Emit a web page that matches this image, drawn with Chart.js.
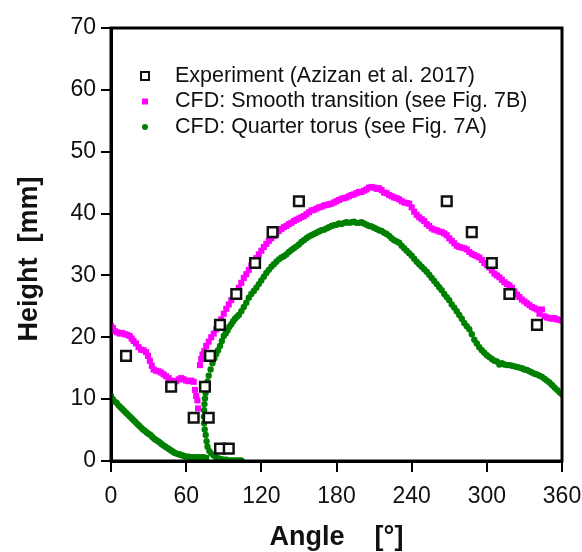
<!DOCTYPE html>
<html>
<head>
<meta charset="utf-8">
<script src="https://cdn.jsdelivr.net/npm/chart.js"></script>
<style>
  body { margin: 0; background: #fff; }
  #wrap { width: 582px; height: 552px; }
</style>
</head>
<body>
<div id="wrap"><canvas id="chart" width="582" height="552"></canvas></div>
<script>
// values: [angle in degrees, height in mm]
const expLabel = 'Experiment (Azizan et al. 2017)'
const smoothLabel = 'CFD: Smooth transition (see Fig. 7B)'
const torusLabel = 'CFD: Quarter torus (see Fig. 7A)'

const expPoints = [
  [12, 17], [48, 12], [66, 7], [75, 12], [78, 7], [79, 17], [87, 22], [87, 2], [94, 2],
  [100, 27], [115, 32], [129, 37], [150, 42], [268, 42], [288, 37], [304, 32], [318, 27], [340, 22]
]

const smoothPoints = [
  [0, 21.8], [1.5, 21.5], [3, 21.0], [5, 20.8], [7, 20.6], [9, 20.7], [11, 20.5], [13, 20.4],
  [15, 20.2], [16.5, 19.8], [18, 19.4], [20, 19.0], [22, 18.4], [24, 18.0], [26, 17.9], [28, 17.6],
  [29.5, 17.0], [31, 16.2], [32.5, 15.4], [34, 14.8], [36, 14.6], [38, 14.5], [40, 14.3], [42, 14.0],
  [44, 13.7], [46, 13.4], [48, 13.0], [50, 12.8], [52, 12.9], [54, 13.2], [56, 13.4], [58, 13.2],
  [60, 13.0], [62, 12.9], [64, 13.0], [66, 12.8], [67, 11.5], [68, 10.5], [69, 9.8], [69.5, 8.5],
  [71, 15.5], [72, 16.5], [73, 17.2], [74.5, 17.8], [76, 18.6], [78, 19.3], [80, 20.0], [82, 20.6],
  [84, 21.3], [86, 22.2], [88, 22.9], [90, 23.8], [92, 24.6], [94, 25.3], [96, 26.0], [98, 26.6],
  [100, 27.3], [102, 28.0], [104, 28.8], [106, 29.6], [108, 30.2], [110, 30.9], [112, 31.6], [114, 32.2],
  [116, 32.8], [118, 33.4], [120, 34.0], [122, 34.6], [124, 35.1], [126, 35.6], [128, 36.0], [130, 36.4],
  [132, 36.8], [134, 37.2], [136, 37.5], [138, 37.8], [140, 38.0], [142, 38.3], [144, 38.5], [146, 38.8],
  [148, 39.0], [150, 39.2], [152, 39.4], [154, 39.6], [156, 39.9], [158, 40.2], [160, 40.5], [162, 40.6],
  [164, 40.8], [166, 41.0], [168, 41.1], [170, 41.3], [172, 41.4], [174, 41.5], [176, 41.6], [178, 41.8],
  [180, 42.0], [182, 42.2], [184, 42.4], [186, 42.5], [188, 42.6], [190, 42.8], [192, 43.0], [194, 43.1],
  [196, 43.3], [198, 43.5], [200, 43.5], [202, 43.7], [204, 43.9], [206, 44.2], [208, 44.3], [210, 44.2],
  [212, 44.0], [214, 44.1], [216, 43.8], [218, 43.4], [220, 43.3], [222, 43.0], [224, 42.8], [226, 42.6],
  [228, 42.5], [230, 42.3], [232, 42.0], [234, 41.8], [236, 41.7], [238, 41.6], [240, 41.0], [242, 40.3],
  [244, 39.8], [246, 39.4], [248, 39.1], [250, 38.8], [252, 38.3], [254, 38.0], [256, 37.6], [258, 37.4],
  [260, 37.3], [262, 37.1], [264, 37.0], [266, 36.8], [268, 36.5], [270, 36.0], [272, 35.6], [274, 35.2],
  [276, 34.8], [278, 34.6], [280, 34.5], [282, 34.4], [284, 34.2], [286, 33.8], [288, 33.5], [290, 33.3],
  [292, 33.1], [294, 32.9], [296, 32.5], [298, 32.0], [300, 31.7], [302, 31.3], [304, 30.8], [306, 30.3],
  [308, 30.0], [310, 29.7], [312, 29.3], [314, 28.9], [316, 28.6], [318, 28.4], [320, 28.0], [322, 27.4],
  [324, 26.9], [326, 26.5], [328, 26.1], [330, 25.8], [332, 25.5], [334, 25.2], [336, 24.9], [338, 24.7],
  [340, 24.5], [342, 23.8], [344, 24.5], [346, 23.4], [348, 23.2], [350, 23.1], [352, 23.0], [354, 23.1],
  [356, 22.9], [358, 22.8], [360, 22.7]
]

const torusPoints = [
  // descending part near 0 deg
  [0, 10.5], [1.5, 10.0], [3, 9.6], [4.5, 9.4], [6, 9.0], [7.5, 8.7], [9, 8.4], [10.5, 8.1],
  [12, 7.8], [13.5, 7.5], [15, 7.2], [16.5, 6.9], [18, 6.6], [19.5, 6.3], [21, 6.0], [22.5, 5.7],
  [24, 5.4], [25.5, 5.1], [27, 4.9], [28.5, 4.6], [30, 4.4], [31.5, 4.2], [33, 3.9], [34.5, 3.6],
  [36, 3.4], [37.5, 3.2], [39, 3.0], [40.5, 2.7], [42, 2.5], [43.5, 2.3], [45, 2.1], [46.5, 1.9],
  [48, 1.7], [49.5, 1.5], [51, 1.3], [52.5, 1.2], [54, 1.1], [55.5, 1.0], [57, 0.9], [58.5, 0.8],
  [60, 0.7], [62, 0.7], [64, 0.6], [66, 0.6], [68, 0.6], [70, 0.6], [72, 0.6], [74, 0.6], [76, 0.5],
  // steep branch and flat bottom around 90 deg
  [75.5, 11.0], [75, 10.1], [74.6, 9.2], [74.3, 8.2], [74.2, 7.2], [74.3, 6.1], [74.8, 5.1], [75.6, 4.2],
  [76.3, 3.2], [77, 2.3], [78.5, 1.6], [80, 1.2], [82, 0.9], [84, 0.6], [86, 0.4], [88, 0.3],
  [90, 0.2], [92, 0.2], [94, 0.1], [96, 0.1], [98, 0.1], [100, 0.1], [102, 0.1], [104, 0.1],
  // main hump
  [76, 12.0], [77, 12.8], [78, 13.8], [79.5, 14.8], [81, 15.8], [82.5, 16.6], [84, 17.3], [85.5, 17.9],
  [87, 18.6], [88.5, 19.4], [90, 20.2], [91.5, 20.6], [93, 21.1], [94.5, 21.7], [96, 22.1], [97.5, 22.6],
  [99, 23.0], [100.5, 23.3], [102, 23.6], [104, 24.2], [106, 24.9], [108, 25.6], [110, 26.4], [112, 27.0],
  [114, 27.5], [116, 28.0], [118, 28.6], [120, 29.2], [122, 29.8], [124, 30.4], [126, 30.9], [128, 31.4],
  [130, 31.8], [132, 32.2], [134, 32.6], [136, 32.9], [138, 33.1], [140, 33.4], [142, 33.8], [144, 34.1],
  [146, 34.4], [148, 34.7], [150, 35.0], [152, 35.4], [154, 35.7], [156, 36.0], [158, 36.3], [160, 36.5],
  [162, 36.7], [164, 36.9], [166, 37.1], [168, 37.3], [170, 37.4], [172, 37.6], [174, 37.8], [176, 38.0],
  [178, 38.1], [180, 38.2], [182, 38.4], [184, 38.3], [186, 38.5], [188, 38.6], [190, 38.5], [192, 38.6],
  [194, 38.7], [196, 38.5], [198, 38.5], [200, 38.6], [202, 38.4], [204, 38.2], [206, 38.0], [208, 37.9],
  [210, 37.7], [212, 37.5], [214, 37.3], [216, 37.2], [218, 36.9], [220, 36.7], [222, 36.4], [224, 36.0],
  [226, 35.7], [228, 35.5], [230, 35.3], [232, 34.8], [234, 34.4], [236, 34.0], [238, 33.6], [240, 33.2],
  [242, 32.7], [244, 32.2], [246, 31.8], [248, 31.4], [250, 31.0], [252, 30.6], [254, 30.1], [256, 29.6],
  [258, 29.1], [260, 28.6], [262, 28.1], [264, 27.6], [266, 27.0], [268, 26.5], [270, 26.0], [272, 25.3],
  [274, 24.8], [276, 24.2], [278, 23.6], [280, 23.0], [282, 22.3], [284, 21.8], [286, 21.3], [288, 20.5],
  [290, 19.6], [292, 19.0], [294, 18.4], [296, 17.9], [298, 17.5], [300, 17.1], [302, 16.8], [304, 16.5],
  [306, 16.2], [308, 16.1], [310, 15.6], [312, 15.8], [314, 15.6], [316, 15.5], [318, 15.5], [320, 15.4],
  [322, 15.3], [324, 15.2], [326, 15.1], [328, 15.0], [330, 14.8], [332, 14.7], [334, 14.5], [336, 14.3],
  [338, 14.1], [340, 14.0], [342, 13.8], [344, 13.6], [346, 13.3], [348, 13.0], [350, 12.7], [352, 12.3],
  [354, 11.9], [356, 11.5], [358, 11.1], [360, 10.8]
]

const xTicks = [0, 60, 120, 180, 240, 300, 360]
const yTicks = [0, 10, 20, 30, 40, 50, 60, 70]

const FONT = "'Liberation Sans', Arial, sans-serif"
const toXY = pts => pts.map(p => ({ x: p[0], y: p[1] }))

// box round the plot area, y title and the legend drawn inside the plot
const framePlugin = {
  id: 'frame',
  afterDraw(chart) {
    const { ctx, chartArea: a } = chart
    ctx.save()
    ctx.strokeStyle = '#000'
    ctx.lineWidth = 3
    ctx.strokeRect(a.left, a.top, a.right - a.left, a.bottom - a.top)

    // y axis title, sits a bit below the middle of the axis in the original
    ctx.save()
    ctx.translate(30, 259)
    ctx.rotate(-Math.PI / 2)
    ctx.font = 'bold 27px ' + FONT
    ctx.textAlign = 'center'
    ctx.textBaseline = 'middle'
    ctx.fillStyle = '#111'
    ctx.fillText('Height  [mm]', 0, 0)
    ctx.restore()

    // legend
    const rows = [
      { label: expLabel, kind: 'open' },
      { label: smoothLabel, kind: 'square' },
      { label: torusLabel, kind: 'dot' }
    ]
    const mx = 145, tx = 175, y0 = 76, dy = 25.5
    ctx.font = '21.5px ' + FONT
    ctx.textBaseline = 'middle'
    rows.forEach((r, i) => {
      const y = y0 + i * dy
      if (r.kind === 'open') {
        ctx.lineWidth = 2
        ctx.strokeStyle = '#111'
        ctx.fillStyle = '#fff'
        ctx.fillRect(mx - 4, y - 4, 8, 8)
        ctx.strokeRect(mx - 4, y - 4, 8, 8)
      } else if (r.kind === 'square') {
        ctx.fillStyle = '#ff00ff'
        ctx.fillRect(mx - 3, y - 3, 6, 6)
      } else {
        ctx.fillStyle = '#008000'
        ctx.beginPath()
        ctx.arc(mx, y, 3, 0, Math.PI * 2)
        ctx.fill()
      }
      ctx.fillStyle = '#111'
      ctx.fillText(r.label, tx, y)
    })
    ctx.restore()
  }
}

new Chart(document.getElementById('chart'), {
  type: 'scatter',
  data: {
    datasets: [
      {
        label: expLabel,
        data: toXY(expPoints),
        pointStyle: 'rect',
        pointRadius: 6.8,
        pointBorderWidth: 2.5,
        borderColor: '#111',
        backgroundColor: '#fff',
        order: 1
      },
      {
        label: smoothLabel,
        data: toXY(smoothPoints),
        pointStyle: 'rect',
        pointRadius: 4.3,
        pointBorderWidth: 0,
        borderColor: '#ff00ff',
        backgroundColor: '#ff00ff',
        order: 2
      },
      {
        label: torusLabel,
        data: toXY(torusPoints),
        pointStyle: 'circle',
        pointRadius: 3.2,
        pointBorderWidth: 0,
        borderColor: '#008000',
        backgroundColor: '#008000',
        order: 3
      }
    ]
  },
  options: {
    responsive: false,
    animation: false,
    events: [],
    layout: { padding: { top: 28, right: 20, left: 0, bottom: 0 } },
    plugins: {
      legend: { display: false },
      tooltip: { enabled: false }
    },
    scales: {
      x: {
        type: 'linear',
        min: 0,
        max: 360,
        afterBuildTicks: s => { s.ticks = xTicks.map(v => ({ value: v })) },
        afterFit: s => { s.height = 91; s.paddingLeft = 0; s.paddingRight = 0 },
        ticks: { color: '#111', font: { family: FONT, size: 23 }, padding: 11, maxRotation: 0 },
        grid: { drawOnChartArea: false, drawTicks: true, tickLength: 11, color: '#000', lineWidth: 2 },
        border: { color: '#000', width: 3 },
        title: {
          display: true,
          text: 'Angle    [°]',
          color: '#111',
          font: { family: FONT, size: 27, weight: 'bold' },
          padding: { top: 0, bottom: -2 }
        }
      },
      y: {
        type: 'linear',
        min: 0,
        max: 70,
        afterBuildTicks: s => { s.ticks = yTicks.map(v => ({ value: v })) },
        afterFit: s => { s.width = 111; s.paddingTop = 0; s.paddingBottom = 0 },
        ticks: { color: '#111', font: { family: FONT, size: 23 }, padding: 5 },
        grid: { drawOnChartArea: false, drawTicks: true, tickLength: 10, color: '#000', lineWidth: 2 },
        border: { color: '#000', width: 3 },
        title: { display: false }
      }
    }
  },
  plugins: [framePlugin]
})
</script>
</body>
</html>
